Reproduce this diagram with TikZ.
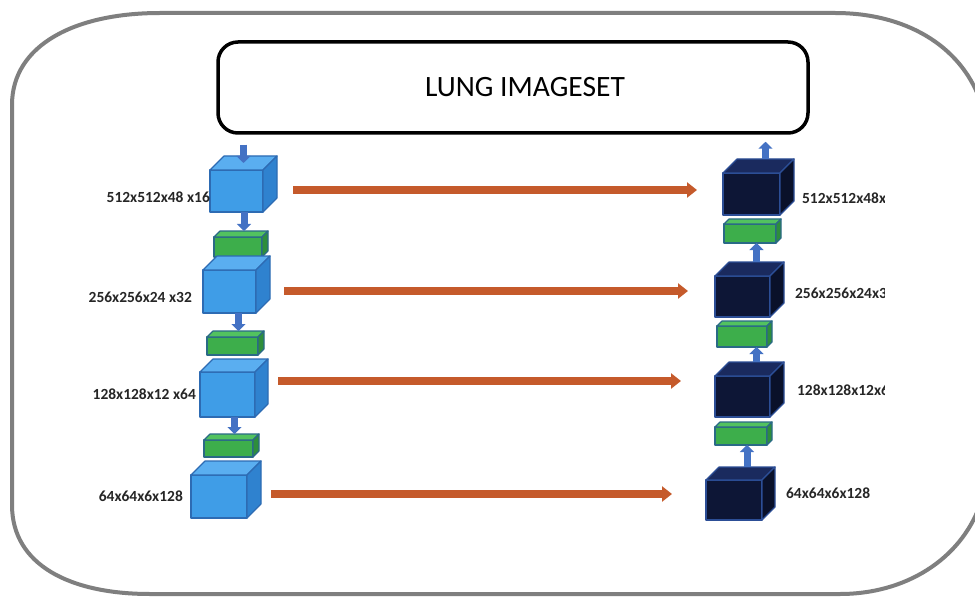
\documentclass[tikz,border=0pt]{standalone}
\usepackage{fontspec}
\setmainfont{Carlito}
\usetikzlibrary{calc,positioning,arrows.meta}

\definecolor{encfront}{HTML}{3F9DE7}
\definecolor{enctop}{HTML}{5AAEF0}
\definecolor{encside}{HTML}{2F82CF}
\definecolor{encedge}{HTML}{2D6BB3}
\definecolor{decfront}{HTML}{0D1636}
\definecolor{dectop}{HTML}{1A2A5E}
\definecolor{decside}{HTML}{0A112A}
\definecolor{decedge}{HTML}{2C4E96}
\definecolor{gatefront}{HTML}{3DAE4B}
\definecolor{gatetop}{HTML}{52C25F}
\definecolor{gateside}{HTML}{2E8E3B}
\definecolor{gateedge}{HTML}{2A6A86}
\definecolor{flowblue}{HTML}{4472C4}
\definecolor{skiporange}{HTML}{C55A2B}
\definecolor{framegray}{HTML}{7F7F7F}

\def\px{0.5mm} % one unit of the grid

\tikzset{
  facefront/.style={draw=#1edge, fill=#1front, line width=0.6mm, line join=round, inner sep=0pt, outer sep=0pt},
  facetop/.style={draw=#1edge, fill=#1top, line width=0.6mm, line join=round},
  faceside/.style={draw=#1edge, fill=#1side, line width=0.6mm, line join=round},
  dimlabel/.style={inner sep=0pt, text=black!85, font=\fontsize{22}{24}\selectfont\bfseries},
  imgbox/.style={draw=black, line width=1.75mm, rounded corners=10mm, font=\fontsize{42}{48}\selectfont},
  flow/.style={flowblue, line width=3.5mm, -{Triangle[length=3.5mm,width=7mm]}},
  skip/.style={skiporange, line width=3.8mm, -{Triangle[length=5mm,width=7.5mm]}},
  frame/.style={framegray, line width=2mm, line join=round}
}

% #1 name, #2 x, #3 y, #4 width, #5 height, #6 depth, #7 enc/dec/gate
\newcommand{\layerbox}[7]{%
  \node[facefront=#7, minimum width=#4*\px, minimum height=#5*\px] (#1) at (#2,#3) {};
  \draw[facetop=#7] (#1.north west) -- ++(#6,-#6) -- ($(#1.north east)+(#6,-#6)$) -- (#1.north east) -- cycle;
  \draw[faceside=#7] (#1.north east) -- ++(#6,-#6) -- ($(#1.south east)+(#6,-#6)$) -- (#1.south east) -- cycle;
  \coordinate (#1-top) at ($(#1.north)+(0.5*#6,-0.5*#6)$);
  \coordinate (#1-back) at ($(#1.north)+(#6,-#6)$);
}

\begin{document}
\begin{tikzpicture}[x=\px, y=-\px]
  \useasboundingbox (0,0) rectangle (975,597);
  \fill[white] (0,0) rectangle (975,597);
  \clip (0,0) rectangle (975,597);

  % outer frame
  \draw[frame] (12,105) .. controls (12,45) and (75,13) .. (160,13) -- (835,13)
    .. controls (905,13) and (960,45) .. (980,100) -- (980,505)
    .. controls (960,560) and (905,594) .. (840,594) -- (150,594)
    .. controls (70,594) and (12,565) .. (12,505) -- cycle;

  \node[imgbox, minimum width=590*\px, minimum height=91*\px] (img) at (513,87.5) {\hspace{12mm}LUNG IMAGESET};

  % encoder
  \layerbox{L1}{236.5}{191}{53}{42}{14}{enc}
  \layerbox{G1}{238}{247}{48}{20}{6}{gate}
  \layerbox{L2}{229.5}{291.5}{53}{43}{14}{enc}
  \layerbox{G2}{232.5}{346}{51}{18}{6}{gate}
  \layerbox{L3}{227.5}{394.5}{55}{45}{13}{enc}
  \layerbox{G3}{228.5}{448.5}{49}{17}{6}{gate}
  \layerbox{L4}{219}{496.5}{56}{43}{14}{enc}

  % decoder
  \layerbox{R4}{734}{500}{56}{40}{13}{dec}
  \layerbox{H3}{741}{436}{52}{18}{5}{gate}
  \layerbox{R3}{742.5}{396.5}{55}{41}{14}{dec}
  \layerbox{H2}{742}{336.5}{50}{21}{5}{gate}
  \layerbox{R2}{742.5}{296.5}{55}{41}{14}{dec}
  \layerbox{H1}{750}{233.5}{52}{19}{5}{gate}
  \layerbox{R1}{751.5}{194}{57}{42}{14}{dec}

  % sizes
  \node[dimlabel, left=0mm of L1, yshift=-3mm] (l1lab) {512x512x48 x16};
  \node[dimlabel, left=5.5mm of L2, yshift=-3mm] (l2lab) {256x256x24 x32};
  \node[dimlabel, left=2mm of L3] (l3lab) {128x128x12 x64};
  \node[dimlabel, left=4mm of L4] (l4lab) {64x64x6x128};
  \begin{scope}
    \clip (0,0) rectangle (884,597);
    \node[dimlabel, right=11mm of R1, yshift=-2mm] (r1lab) {512x512x48x16};
    \node[dimlabel, right=12.5mm of R2, yshift=1.75mm] (r2lab) {256x256x24x32};
    \node[dimlabel, right=13.5mm of R3, yshift=3mm] (r3lab) {128x128x12x64};
    \node[dimlabel, right=12mm of R4, yshift=3.5mm] (r4lab) {64x64x6x128};
  \end{scope}

  % down the encoder
  \draw[flow, shorten <=5mm] (img.south -| L1-top) -- (L1-top);
  \draw[flow] (L1.south -| G1-back) -- (G1-back);
  \draw[flow] (L2.south -| G2-back) -- (G2-back);
  \draw[flow] (L3.south -| G3-back) -- (G3-back);

  % up the decoder
  \draw[flow] (R4-back) -- (R4-back |- H3.south);
  \draw[flow] (R3-back) -- (R3-back |- H2.south);
  \draw[flow] (R2-back) -- (R2-back |- H1.south);
  \draw[flow, shorten >=3.5mm] (R1-back) -- (R1-back |- img.south);

  % skip connections
  \foreach \a/\b/\y/\s/\e in {L1/R1/190/15/13, L2/R2/291/14/13.5, L3/R3/381/11.5/17, L4/R4/494/12/17}
    \draw[skip, shorten <=\s mm, shorten >=\e mm] (\a.east |- 0,\y) -- (\b.west |- 0,\y);
\end{tikzpicture}
\end{document}
